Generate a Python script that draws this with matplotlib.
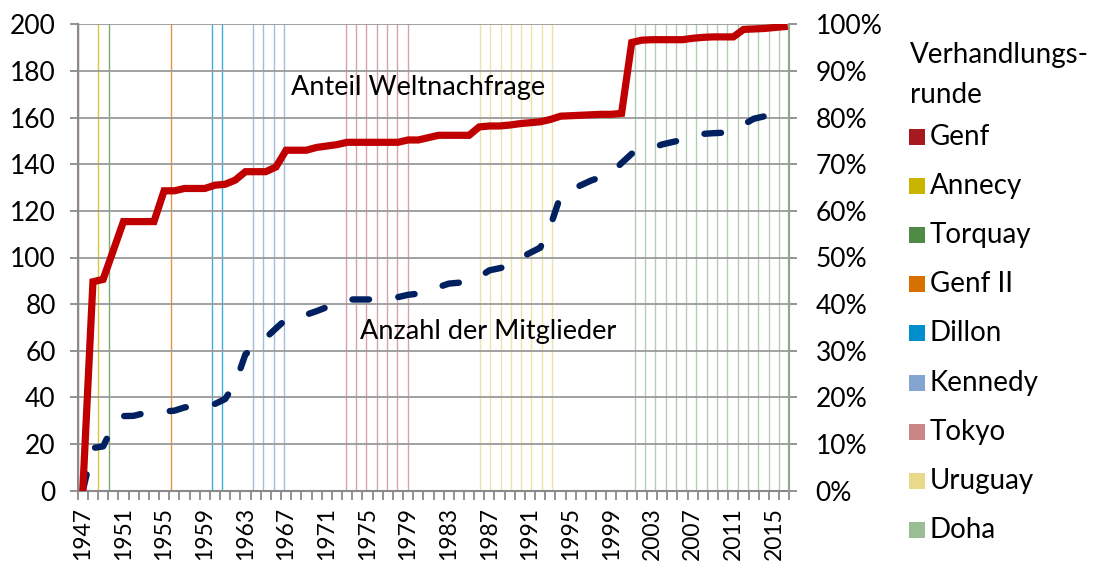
import matplotlib
matplotlib.use("Agg")
import matplotlib.pyplot as plt
from matplotlib.patches import Rectangle
from matplotlib.ticker import FixedLocator, PercentFormatter

plt.rcParams['font.family'] = ['Lato', 'DejaVu Sans']
FS_TICK = 19
FS_X = 16.5
FS_TXT = 19.5
FS_LEG = 20

# ---- data ----
years = list(range(1947, 2017))

# share of world demand, percent (right axis)
anteil = [0, 44.8, 45.3, 51.5, 57.7, 57.7, 57.7, 57.7, 64.3, 64.3,
          64.8, 64.8, 64.8, 65.5, 65.7, 66.6, 68.4, 68.4, 68.4, 69.4,
          73.0, 73.0, 73.0, 73.6, 73.9, 74.2, 74.7, 74.7, 74.7, 74.7,
          74.7, 74.7, 75.2, 75.2, 75.7, 76.2, 76.2, 76.2, 76.2, 78.0,
          78.2, 78.2, 78.4, 78.7, 78.9, 79.1, 79.6, 80.3, 80.4, 80.5,
          80.6, 80.7, 80.7, 80.9, 96.1, 96.6, 96.7, 96.7, 96.7, 96.7,
          97.0, 97.2, 97.3, 97.3, 97.3, 98.9, 99.0, 99.1, 99.3, 99.5]

# number of members (left axis)
mitglieder = [0, 18.3, 19, 28, 32, 32.1, 33.2, 33.6, 34.0, 34.3,
              35.7, 36.3, 36.7, 37.2, 39.3, 46, 58.5, 62, 65.5, 69.6,
              73.5, 74.5, 75.5, 77, 78.7, 80.3, 82, 82, 82, 82,
              82.3, 83, 84, 84.5, 85.5, 87.3, 88.8, 89.2, 89.5, 91.6,
              94.5, 95.4, 96.5, 99.7, 102, 104.2, 113.5, 126.5, 129, 131,
              133, 134.5, 136.2, 140.5, 144.5, 146, 147, 148.5, 149.5, 150.5,
              151.5, 153, 153.3, 153.5, 155, 157, 159.5, 160.5, 162, 164]

rounds = ['Genf', 'Annecy', 'Torquay', 'Genf II', 'Dillon',
          'Kennedy', 'Tokyo', 'Uruguay', 'Doha']
round_colors = ['#A6191E', '#C9B500', '#4F8B45', '#D67000', '#008ECC',
                '#85A5D1', '#CC8587', '#E8DA8A', '#9ABD96']
round_years = [[1947], [1949], [1950], [1956], [1960, 1961],
               list(range(1964, 1968)), list(range(1973, 1980)),
               list(range(1986, 1994)), list(range(2001, 2017))]

label_years = list(range(1947, 2017, 4))

# ---- figure ----
fig = plt.figure(figsize=(10.93, 5.61), dpi=100)
W, H = 1093, 561
pos = [77.7 / W, 1 - 490.7 / H, (789.3 - 77.7) / W, (490.7 - 24.3) / H]

# round markers (own x scale, as in the original sheet)
ax_r = fig.add_axes(pos)
ax_r.set_xlim(1947, 2016)
ax_r.set_ylim(0, 1)
ax_r.axis('off')
for yrs, col in zip(round_years, round_colors):
    for y in yrs:
        ax_r.axvline(y, color=col, lw=1.0, alpha=0.75)

ax = fig.add_axes(pos)
ax.patch.set_visible(False)
ax.set_xlim(1946.5, 2016.5)
ax.set_ylim(0, 200)
ax.set_yticks(range(0, 201, 20))
ax.yaxis.grid(True, color='#9a9a9a', lw=1.3)
ax.set_axisbelow(True)

ax.plot(years, mitglieder, color='#002060', lw=4.6,
        linestyle=(0, (2.6, 4.6)), dash_capstyle='round', solid_capstyle='round')

ax.xaxis.set_major_locator(FixedLocator(label_years))
ax.xaxis.set_minor_locator(FixedLocator([y - 0.5 for y in years] + [2016.5]))
ax.set_xticklabels([str(y) for y in label_years], rotation=90, fontsize=FS_X)
ax.tick_params(axis='x', which='major', length=0, pad=12)
ax.tick_params(axis='x', which='minor', length=6.3, width=1.3, color='#8a8a8a')
ax.tick_params(axis='y', length=5.8, width=1.3, color='#8a8a8a',
               labelsize=FS_TICK, pad=10)

ax.spines['top'].set_visible(False)
for s in ['left', 'bottom', 'right']:
    ax.spines[s].set_color('#8a8a8a')
    ax.spines[s].set_linewidth(1.5)

ax2 = ax.twinx()
ax2.set_ylim(0, 100)
ax2.set_yticks(range(0, 101, 10))
ax2.yaxis.set_major_formatter(PercentFormatter(decimals=0))
ax2.plot(years, anteil, color='#C00000', lw=5.2, solid_joinstyle='miter')
ax2.tick_params(axis='y', length=5.8, width=1.3, color='#8a8a8a',
                labelsize=FS_TICK, pad=13)
for s in ['top', 'left', 'bottom']:
    ax2.spines[s].set_visible(False)
ax2.spines['right'].set_color('#8fa88c')
ax2.spines['right'].set_linewidth(1.5)

ax.text(1980.0, 172.7, 'Anteil Weltnachfrage', fontsize=FS_TXT, ha='center', va='center')
ax.text(1986.9, 68.1, 'Anzahl der Mitglieder', fontsize=FS_TXT, ha='center', va='center')

# legend
fig.text(910 / W, 1 - 55 / H, 'Verhandlungs-', fontsize=FS_LEG, va='center', ha='left')
fig.text(910 / W, 1 - 95 / H, 'runde', fontsize=FS_LEG, va='center', ha='left')
for i, (name, col) in enumerate(zip(rounds, round_colors)):
    yc = 137 + i * 49.1
    fig.patches.append(Rectangle((909 / W, 1 - (yc + 8) / H), 16 / W, 16 / H,
                                 transform=fig.transFigure, facecolor=col,
                                 edgecolor='none'))
    fig.text(930 / W, 1 - yc / H, name, fontsize=FS_LEG, va='center', ha='left')

fig.savefig('out.png', dpi=100)
